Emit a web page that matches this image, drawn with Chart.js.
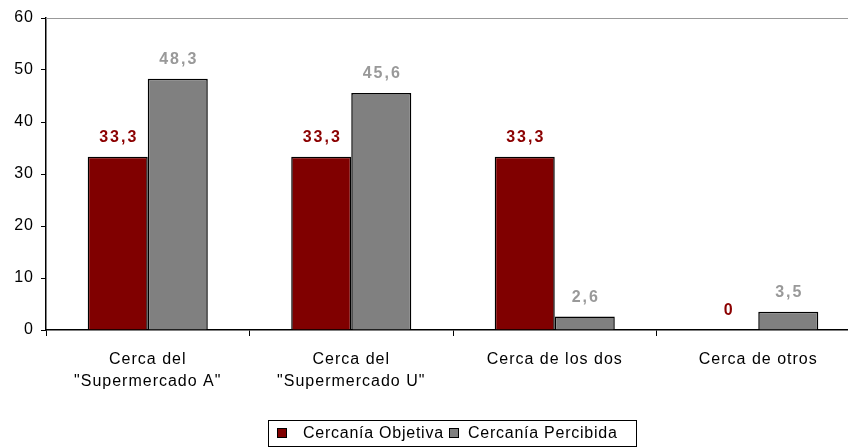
<!DOCTYPE html>
<html>
<head>
<meta charset="utf-8">
<script src="https://cdn.jsdelivr.net/npm/chart.js@4/dist/chart.umd.min.js"></script>
<style>
  html, body { margin: 0; padding: 0; background: #fff; }
  #wrap { width: 848px; height: 448px; overflow: hidden; position: relative; }
  #box { width: 872px; height: 448px; }
</style>
</head>
<body>
<div id="wrap"><div id="box"><canvas id="chart"></canvas></div></div>
<script>
const categories = [
  ["Cerca del", "\"Supermercado A\""],
  ["Cerca del", "\"Supermercado U\""],
  "Cerca de los dos",
  "Cerca de otros"
];
const objetiva = [33.3, 33.3, 33.3, 0];
const percibida = [48.3, 45.6, 2.6, 3.5];
const seriesNames = ["Cercanía Objetiva", "Cercanía Percibida"];
const yTicks = [0, 10, 20, 30, 40, 50, 60];

const FONT = "'Liberation Sans', Arial, sans-serif";

// spaced-out text like the original export
const spacing = {
  id: "spacing",
  beforeInit(chart) { chart.ctx.letterSpacing = "1px"; },
  beforeUpdate(chart) { chart.ctx.letterSpacing = "1px"; },
  beforeDraw(chart) { chart.ctx.letterSpacing = "1px"; }
};

// value labels above bars, grey top border, framed legend
const extras = {
  id: "extras",
  afterDraw(chart) {
    const ctx = chart.ctx;
    const area = chart.chartArea;
    ctx.save();
    ctx.strokeStyle = "#999999";
    ctx.lineWidth = 1;
    ctx.beginPath();
    ctx.moveTo(area.left, area.top + 0.5);
    ctx.lineTo(area.right, area.top + 0.5);
    ctx.stroke();

    const labelColors = ["#8b0000", "#999999"];
    ctx.font = "bold 16px " + FONT;
    ctx.textAlign = "center";
    ctx.textBaseline = "middle";
    ctx.letterSpacing = "2px";
    chart.data.datasets.forEach((ds, i) => {
      const meta = chart.getDatasetMeta(i);
      meta.data.forEach((bar, j) => {
        const txt = String(ds.data[j]).replace(".", ",");
        ctx.fillStyle = labelColors[i];
        ctx.fillText(txt, bar.x + 1, bar.y - 19);
      });
    });

    // legend
    ctx.strokeStyle = "#000";
    ctx.lineWidth = 1;
    ctx.strokeRect(268.5, 420.5, 368, 26);
    ctx.font = "16px " + FONT;
    ctx.letterSpacing = "0.75px";
    ctx.textAlign = "left";
    ctx.textBaseline = "middle";
    const markerX = [277, 449];
    const textX = [303, 468];
    chart.data.datasets.forEach((ds, i) => {
      ctx.fillStyle = ds.backgroundColor;
      ctx.fillRect(markerX[i] + 0.5, 428.5, 9, 9);
      ctx.strokeRect(markerX[i] + 0.5, 428.5, 9, 9);
      ctx.fillStyle = "#000";
      ctx.fillText(ds.label, textX[i], 434);
    });
    ctx.restore();
  }
};

new Chart(document.getElementById("chart"), {
  type: "bar",
  data: {
    labels: categories,
    datasets: [
      { label: seriesNames[0], data: objetiva, backgroundColor: "#800000", borderColor: "#000", borderWidth: 1.5 },
      { label: seriesNames[1], data: percibida, backgroundColor: "#808080", borderColor: "#000", borderWidth: 1.5 }
    ]
  },
  plugins: [spacing, extras],
  options: {
    responsive: true,
    maintainAspectRatio: false,
    animation: false,
    layout: { padding: { top: 18, right: 12, left: 0, bottom: 33 } },
    datasets: { bar: { categoryPercentage: 0.59, barPercentage: 1 } },
    plugins: {
      tooltip: { enabled: false },
      legend: { display: false }
    },
    scales: {
      x: {
        grid: { display: true, drawOnChartArea: false, color: "#000", tickLength: 6, offset: true },
        border: { color: "#000", width: 1.5 },
        ticks: { color: "#000", font: { family: FONT, size: 16, lineHeight: 1.4 }, padding: 12, maxRotation: 0 },
        afterFit(scale) { scale.height = 85; }
      },
      y: {
        min: 0,
        max: 60,
        afterBuildTicks(scale) { scale.ticks = yTicks.map(v => ({ value: v })); },
        grid: { display: true, drawOnChartArea: false, color: "#000", tickLength: 5 },
        border: { color: "#000", width: 1.5 },
        ticks: { color: "#000", font: { family: FONT, size: 16 }, padding: 7 },
        afterFit(scale) { scale.width = 46; }
      }
    }
  }
});
</script>
</body>
</html>
